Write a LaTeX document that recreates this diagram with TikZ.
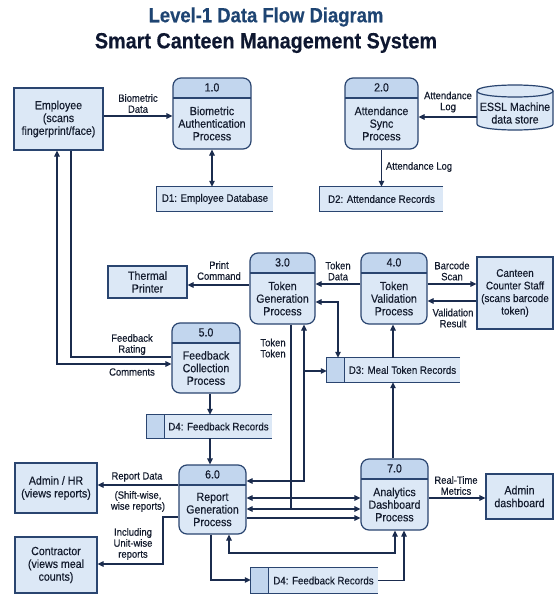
\documentclass[tikz,border=0pt]{standalone}
\usepackage{fontspec}
\setmainfont{Liberation Sans}[FakeStretch=0.9, FakeBold=0.35]
\usetikzlibrary{arrows.meta}
\definecolor{bodyc}{HTML}{DCE8F6}
\definecolor{headc}{HTML}{C2D6EE}
\definecolor{bc}{HTML}{2A4570}
\definecolor{lc}{HTML}{1B2C4E}
\definecolor{tc}{HTML}{141C2E}
\definecolor{tone}{HTML}{1E4472}
\definecolor{ttwo}{HTML}{0E1730}
\tikzset{
  every node/.style={text=tc},
  ent/.style={draw=bc, fill=bodyc, line width=1.2pt, align=center, inner sep=0pt,
    font=\fontsize{11.8}{12.8}\selectfont},
  proc/.style={draw=bc, fill=bodyc, line width=1.2pt, rounded corners=8pt, inner sep=0pt,
    path picture={
      \fill[headc, sharp corners] (path picture bounding box.north west) rectangle ([yshift=-20pt]path picture bounding box.north east);
      \draw[bc, line width=1.2pt, sharp corners] ([yshift=-20pt]path picture bounding box.north west) -- ([yshift=-20pt]path picture bounding box.north east);
    }},
  ptxt/.style={align=center, inner sep=0pt, font=\fontsize{11.8}{12.6}\selectfont},
  store/.style={fill=bodyc, inner sep=0pt, font=\fontsize{10.8}{12}\selectfont},
  lbl/.style={align=center, inner sep=0pt, font=\fontsize{10.5}{11}\selectfont},
  pline/.style={draw=lc, line width=1.2pt},
  flow/.style={pline, -{Triangle[length=6pt,width=5.5pt]}},
  bflow/.style={pline, {Triangle[length=6pt,width=5.5pt]}-{Triangle[length=6pt,width=5.5pt]}},
  sline/.style={draw=bc, line width=1.2pt},
}
\newcommand\dfdproc[7]{%
  \node[proc, minimum width=#4pt, minimum height=#5pt] (#1) at (#2,#3) {};
  \node[ptxt] (#1n) at ([yshift=-10pt]#1.north) {#6};
  \node[ptxt] (#1t) at ([yshift=-10pt]#1.center) {#7};
}
\newcommand\dfdopen[1]{%
  \draw[sline] (#1.north east) -- (#1.north west) -- (#1.south west) -- (#1.south east);
}
\newcommand\dfdpart[1]{%
  \coordinate (#1l) at ([xshift=-18pt]#1.west);
  \fill[headc] ([xshift=-18pt]#1.north west) rectangle (#1.south west);
  \draw[sline] (#1.north east) -- ([xshift=-18pt]#1.north west) -- ([xshift=-18pt]#1.south west) -- (#1.south east);
  \draw[sline] (#1.north west) -- (#1.south west);
}
\begin{document}
\begin{tikzpicture}[x=1pt,y=-1pt]
\useasboundingbox (0,0) rectangle (557,594);
\fill[white] (0,0) rectangle (557,594);

% titles
\node[font=\fontsize{20.5}{24}\selectfont\bfseries, text=tone] (title1) at (266,17) {Level-1 Data Flow Diagram};
\node[font=\fontsize{22}{26}\selectfont\bfseries, text=ttwo] (title2) at (266,43) {Smart Canteen Management System};

% entities
\node[ent, minimum width=89pt, minimum height=62pt] (emp) at (58.5,119) {Employee\\(scans\\fingerprint/face)};
\node[ent, minimum width=79pt, minimum height=32pt] (tp) at (147.5,282) {Thermal\\Printer};
\node[ent, minimum width=76pt, minimum height=72pt, font=\fontsize{11}{12.6}\selectfont] (cs) at (515,293) {Canteen\\Counter Staff\\(scans barcode\\token)};
\node[ent, minimum width=82pt, minimum height=50pt] (hr) at (56,488) {Admin / HR\\(views reports)};
\node[ent, minimum width=82pt, minimum height=56pt] (con) at (56,565) {Contractor\\(views meal\\counts)};
\node[ent, minimum width=67pt, minimum height=45pt] (ad) at (519.5,496.5) {Admin\\dashboard};

% ESSL cylinder
\filldraw[fill=bodyc, sline] (477,91) -- (477,124) .. controls (477,132) and (553,132) .. (553,124) -- (553,91) .. controls (553,83) and (477,83) .. (477,91) -- cycle;
\draw[sline] (477,91) .. controls (477,99) and (553,99) .. (553,91);
\node[ptxt, minimum width=76pt, minimum height=40pt] (essl) at (515,113) {ESSL Machine\\data store};

% processes
\dfdproc{p1}{212}{113.5}{78}{71}{1.0}{Biometric\\Authentication\\Process}
\dfdproc{p2}{381.5}{113.5}{73}{71}{2.0}{Attendance\\Sync\\Process}
\dfdproc{p3}{282.5}{288.5}{65}{71}{3.0}{Token\\Generation\\Process}
\dfdproc{p4}{394}{288.5}{66}{71}{4.0}{Token\\Validation\\Process}
\dfdproc{p5}{206}{358}{68}{70}{5.0}{Feedback\\Collection\\Process}
\dfdproc{p6}{212.5}{499.5}{67}{69}{6.0}{Report\\Generation\\Process}
\dfdproc{p7}{394.5}{494.5}{67}{71}{7.0}{Analytics\\Dashboard\\Process}

% data stores
\node[store, minimum width=116pt, minimum height=24pt] (d1) at (215,199) {D1: Employee Database};
\dfdopen{d1}
\node[store, minimum width=123pt, minimum height=24pt] (d2) at (381.5,199) {D2: Attendance Records};
\dfdopen{d2}
\node[store, minimum width=115pt, minimum height=24pt] (d3) at (402.5,370) {D3: Meal Token Records};
\dfdpart{d3}
\node[store, minimum width=107pt, minimum height=23pt] (d4a) at (218.5,426.5) {D4: Feedback Records};
\dfdpart{d4a}
\node[store, minimum width=109pt, minimum height=25pt] (d4b) at (323.5,580.5) {D4: Feedback Records};
\dfdpart{d4b}

% flows
\draw[flow] (emp.east |- 0,116) -- (p1.west |- 0,116);
\node[lbl] (l1) at (138,103.5) {Biometric\\Data};
\draw[bflow] (p1.south) -- (p1.south |- d1.north);

\draw[flow] ([yshift=-4pt]essl.west) -- (p2.east |- 0,117);
\node[lbl] (l2) at (448,102) {Attendance\\Log};
\draw[flow] (p2.south) -- (p2.south |- d2.north);
\node[lbl] (l3) at (419,167) {Attendance Log};

\draw[bflow] (57,0 |- emp.south) -- (57,364) -- (p5.west |- 0,364);
\draw[pline] (71,0 |- emp.south) -- (71,357) -- (p5.west |- 0,357);
\node[lbl] (l4) at (132,344.5) {Feedback\\Rating};
\node[lbl] (l5) at (132,372) {Comments};

\draw[flow] (p3.west |- 0,285) -- (tp.east |- 0,285);
\node[lbl] (l6) at (219,270.5) {Print\\Command};
\draw[flow] (p4.west |- 0,284) -- (p3.east |- 0,284);
\node[lbl] (l7) at (338,271) {Token\\Data};
\draw[bflow] (p3.east |- 0,302) -- (338,302) -- (338,0 |- d3.north);

\draw[flow] (p4.east |- 0,284) -- (cs.west |- 0,284);
\node[lbl] (l8) at (452,271) {Barcode\\Scan};
\draw[flow] (cs.west |- 0,301) -- (p4.east |- 0,301);
\node[lbl] (l9) at (453,318) {Validation\\Result};

\draw[flow] (393,0 |- d3.north) -- (393,0 |- p4.south);
\draw[flow] (393,0 |- p7.north) -- (393,0 |- d3.south);

\draw[bflow] (304,0 |- p3.south) -- (304,481) -- (p6.east |- 0,481);
\draw[flow] (304,371) -- (d3l |- 0,371);
\draw[pline] (291,0 |- p3.south) -- (291,509);
\node[lbl] (l10) at (273,348) {Token\\Token};

\draw[bflow] (p6.east |- 0,498) -- (p7.west |- 0,498);
\draw[bflow] (p6.east |- 0,509) -- (p7.west |- 0,509);
\draw[flow] (p6.east |- 0,518) -- (p7.west |- 0,518);

\draw[bflow] (229,0 |- p6.south) -- (229,553) -- (395,553) -- (395,0 |- p7.south);
\draw[flow] (211,0 |- p6.south) -- (211,580) -- (d4bl |- 0,580);
\draw[flow] (d4b.east) -- (404,0 |- d4b.east) -- (404,0 |- p7.south);

\draw[flow] (210,0 |- p5.south) -- (210,0 |- d4a.north);
\draw[flow] (210,0 |- d4a.south) -- (210,0 |- p6.north);

\draw[flow] (p6.west |- 0,485) -- (hr.east |- 0,485);
\node[lbl] (l11) at (137,477) {Report Data};
\node[lbl] (l12) at (138,501.5) {(Shift-wise,\\wise reports)};
\draw[flow] (p6.west |- 0,517) -- (163,517) -- (163,564) -- (con.east |- 0,564);
\node[lbl] (l13) at (133,544) {Including\\Unit-wise\\reports};

\draw[flow] (p7.east |- 0,498) -- (ad.west |- 0,498);
\node[lbl] (l14) at (456,485.5) {Real-Time\\Metrics};
\end{tikzpicture}
\end{document}
